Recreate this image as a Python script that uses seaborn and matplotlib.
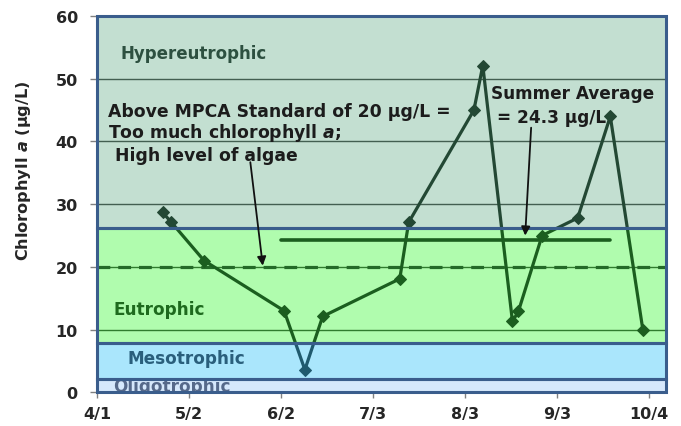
import matplotlib
matplotlib.use("Agg")
import matplotlib.pyplot as plt
import matplotlib.dates as mdates
import matplotlib.transforms as mtransforms
from matplotlib.patches import Rectangle
import seaborn as sns
import pandas as pd

# ---- data ----
sample_dates = ["2010-04-23", "2010-04-26", "2010-05-07", "2010-06-03", "2010-06-10",
                "2010-06-16", "2010-07-12", "2010-07-15", "2010-08-06", "2010-08-09",
                "2010-08-19", "2010-08-21", "2010-08-29", "2010-09-10", "2010-09-21",
                "2010-10-02"]
chl_a = [28.7, 27.1, 21.0, 13.0, 3.6, 12.1, 18.1, 27.1, 45.0, 52.1,
         11.3, 12.9, 25.0, 27.8, 44.0, 9.9]
tick_dates = ["2010-04-01", "2010-05-02", "2010-06-02", "2010-07-03",
              "2010-08-03", "2010-09-03", "2010-10-04"]
tick_labels = ["4/1", "5/2", "6/2", "7/3", "8/3", "9/3", "10/4"]
y_ticks = [0, 10, 20, 30, 40, 50, 60]
band_names = ["Oligotrophic", "Mesotrophic", "Eutrophic", "Hypereutrophic"]
band_bounds = [0, 2.1, 7.8, 26.2, 60]
mpca_standard = 20
summer_avg = 24.3
summer_span = ["2010-06-02", "2010-09-21"]
x_range = ["2010-04-01", "2010-10-09 19:00"]

df = pd.DataFrame({"date": pd.to_datetime(sample_dates), "chl": chl_a})

sns.set_theme(style="white")
plt.rcParams["font.family"] = ["DejaVu Sans"]
plt.rcParams["mathtext.fontset"] = "custom"
plt.rcParams["mathtext.it"] = "DejaVu Sans:italic:bold"
plt.rcParams["mathtext.rm"] = "DejaVu Sans:bold"

fig = plt.figure(figsize=(6.81, 4.27), dpi=100)
ax = fig.add_axes([0.1429, 0.0789, 0.8351, 0.8811])

# gridlines (under the translucent bands)
ax.set_axisbelow(True)
ax.yaxis.grid(True, color="#2a2a2a", lw=1.0)
ax.xaxis.grid(False)

# trophic bands
band_faces = [(152.5, 197.5, 247.5), (42.5, 192.5, 247.5),
              (57.5, 247.5, 52.5), (105, 175, 140)]
for (lo, hi), fc in zip(zip(band_bounds[:-1], band_bounds[1:]), band_faces):
    ax.axhspan(lo, hi, facecolor=tuple(c / 255 for c in fc) + (0.4,),
               edgecolor="none", zorder=3)

# MPCA standard dashed line and summer average line
ax.axhline(mpca_standard, color="#246a28", lw=2.3, dashes=(4, 2.5), zorder=3.5)
ax.plot(pd.to_datetime(summer_span), [summer_avg, summer_avg],
        color="#1b5e1f", lw=2.6, zorder=3.5)

# data line, tinted by the band it passes through
line_cols = ["#2a4a6a", "#205a6e", "#1b5e1f", "#234834"]
blend = mtransforms.blended_transform_factory(ax.transAxes, ax.transData)
for (lo, hi), lc in zip(zip(band_bounds[:-1], band_bounds[1:]), line_cols):
    n_before = len(ax.lines)
    sns.lineplot(data=df, x="date", y="chl", ax=ax, color=lc, lw=2.3,
                 marker="D", markersize=6, markeredgecolor=lc,
                 markerfacecolor=lc, zorder=3.6)
    clip = Rectangle((0, lo), 1, hi - lo, transform=blend)
    for ln in ax.lines[n_before:]:
        ln.set_clip_path(clip)

for lo, hi in zip(band_bounds[:-1], band_bounds[1:]):
    ax.axhspan(lo, hi, fill=False, edgecolor="#3a5d8c", lw=2.2, zorder=4,
               clip_on=False)

# axes
ax.set_ylim(0, 60)
ax.set_xlim(pd.to_datetime(x_range[0]), pd.to_datetime(x_range[1]))
ax.set_yticks(y_ticks)
ax.set_yticklabels([str(v) for v in y_ticks])
ax.set_xticks(mdates.date2num(pd.to_datetime(tick_dates)))
ax.set_xticklabels(tick_labels)
for s in ax.spines.values():
    s.set_visible(False)
ax.tick_params(axis="y", left=True, length=5, width=1, color="#808080",
               direction="out", pad=9, labelsize=11.5, labelcolor="#262626")
ax.tick_params(axis="x", bottom=True, length=4, width=1, color="#808080",
               direction="out", pad=6, labelsize=11.5, labelcolor="#262626")
for lab in ax.get_xticklabels() + ax.get_yticklabels():
    lab.set_fontweight("bold")
ax.set_xlabel("")
ax.set_ylabel("")
fig.text(0.0345, 0.5995, "Chlorophyll $a$ (µg/L)", rotation=90, ha="center",
         va="center", fontsize=11.6, fontweight="bold", color="#262626")

d0 = pd.to_datetime(x_range[0])
def dd(days):
    return d0 + pd.Timedelta(days=days)

# band labels
ax.text(dd(7.7), 54.1, band_names[3], fontsize=12, fontweight="bold",
        color="#2d5040", va="center", ha="left", zorder=6)
ax.text(dd(5.3), 13.3, band_names[2], fontsize=12.2, fontweight="bold",
        color="#1e6a1e", va="center", ha="left", zorder=6)
ax.text(dd(10.3), 5.5, band_names[1], fontsize=12.2, fontweight="bold",
        color="#2a5f7c", va="center", ha="left", zorder=6)
ax.text(dd(5.3), 0.2, band_names[0], fontsize=12.2, fontweight="bold",
        color="#56698a", va="baseline", ha="left", zorder=3.5, clip_on=True)

# annotations
txt_col = "#1c1c1c"
ax.text(dd(3.6), 44.9, "Above MPCA Standard of 20 µg/L =", fontsize=12.4,
        fontweight="bold", color=txt_col, va="center", ha="left", zorder=6)
ax.text(dd(3.6), 41.5, "Too much chlorophyll $a$;", fontsize=12.4,
        fontweight="bold", color=txt_col, va="center", ha="left", zorder=6)
ax.text(dd(5.8), 37.8, "High level of algae", fontsize=12.4,
        fontweight="bold", color=txt_col, va="center", ha="left", zorder=6)
ax.text(dd(132.8), 47.8, "Summer Average", fontsize=12.2,
        fontweight="bold", color=txt_col, va="center", ha="left", zorder=6)
ax.text(dd(134.9), 43.9, "= 24.3 µg/L", fontsize=12.2,
        fontweight="bold", color=txt_col, va="center", ha="left", zorder=6)

arrow_kw = dict(arrowstyle="-|>", color="#111111", lw=1.3, mutation_scale=13,
                shrinkA=0, shrinkB=0)
ax.annotate("", xy=(dd(55.8), 20.2), xytext=(dd(51.6), 36.7),
            arrowprops=arrow_kw, zorder=6)
ax.annotate("", xy=(dd(144.3), 25.0), xytext=(dd(146.3), 42.2),
            arrowprops=arrow_kw, zorder=6)

fig.savefig("out.png", dpi=100)
